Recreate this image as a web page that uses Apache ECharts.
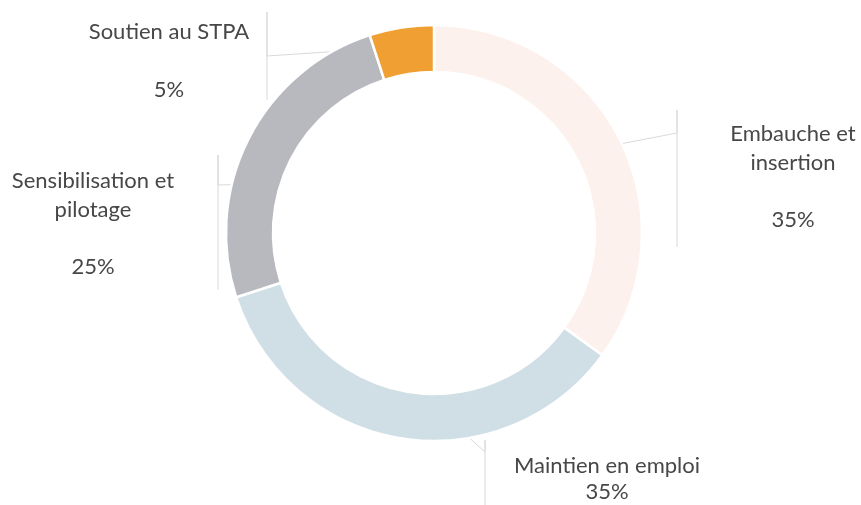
<!DOCTYPE html>
<html>
<head>
<meta charset="utf-8">
<script src="https://cdn.jsdelivr.net/npm/echarts@6/dist/echarts.min.js"></script>
<style>
html,body{margin:0;padding:0;background:#fff;}
#chart{width:861px;height:505px;}
</style>
</head>
<body>
<div id="chart"></div>
<script>
// ---- data ----
var categories = ['Embauche et\ninsertion', 'Maintien en emploi', 'Sensibilisation et\npilotage', 'Soutien au STPA'];
var values = [35, 35, 25, 5];
var percentLabels = ['35%', '35%', '25%', '5%'];
var gapLines = [1, 0, 1, 1]; // blank line between name and percent

// ---- styles / layout ----
var colors = ['#fcf1ec', '#d0dfe5', '#b7b9bf', '#f0a032'];
var CX = 434, CY = 233, R_OUT = 208, R_IN = 161;
// label centres (x, top y) and bracket settings
var labelPos = [
  {cx: 793, top: 120, lh: 28.5, bx: 677, b0: 110, b1: 247, by: 133},
  {cx: 607, top: 453, lh: 26,   bx: 485, b0: 440, b1: 505, by: 452},
  {cx: 93,  top: 167, lh: 28.5, bx: 218, b0: 155, b1: 290, by: 185},
  {cx: 169, top: 17,  lh: 29,   bx: 267, b0: 12,  b1: 100, by: 56}
];
var anchorAngles = [63, 175, 285, 351]; // degrees clockwise from top, where leader enters ring

var chart = echarts.init(document.getElementById('chart'), null, {renderer: 'canvas'});
var data = categories.map(function (c, i) {
  return {
    name: c, value: values[i],
    itemStyle: {color: colors[i]},
    label: {
      formatter: c + '\n' + (gapLines[i] ? '\n' : '') + percentLabels[i],
      lineHeight: labelPos[i].lh
    }
  };
});

chart.setOption({
  animation: false,
  series: [{
    type: 'pie',
    center: [CX, CY],
    radius: [R_IN, R_OUT],
    startAngle: 90,
    clockwise: true,
    data: data,
    itemStyle: {borderColor: '#ffffff', borderWidth: 2.5},
    label: {
      show: true,
      position: 'outside',
      fontFamily: 'Lato, "Open Sans", sans-serif',
      fontSize: 22,
      color: '#474747',
      align: 'center'
    },
    labelLine: {show: true, lineStyle: {color: '#d9d9d9', width: 1}},
    labelLayout: function (params) {
      var i = params.dataIndex;
      var p = labelPos[i];
      var a = anchorAngles[i] * Math.PI / 180;
      var rm = (R_IN + R_OUT) / 2 + 4;
      var ax = CX + rm * Math.sin(a), ay = CY - rm * Math.cos(a);
      return {
        x: p.cx,
        y: p.top,
        align: 'center',
        verticalAlign: 'top',
        labelLinePoints: [[ax, ay], [p.bx, p.by], [p.bx, p.b0], [p.bx, p.b1]]
      };
    }
  }]
});
</script>
</body>
</html>
